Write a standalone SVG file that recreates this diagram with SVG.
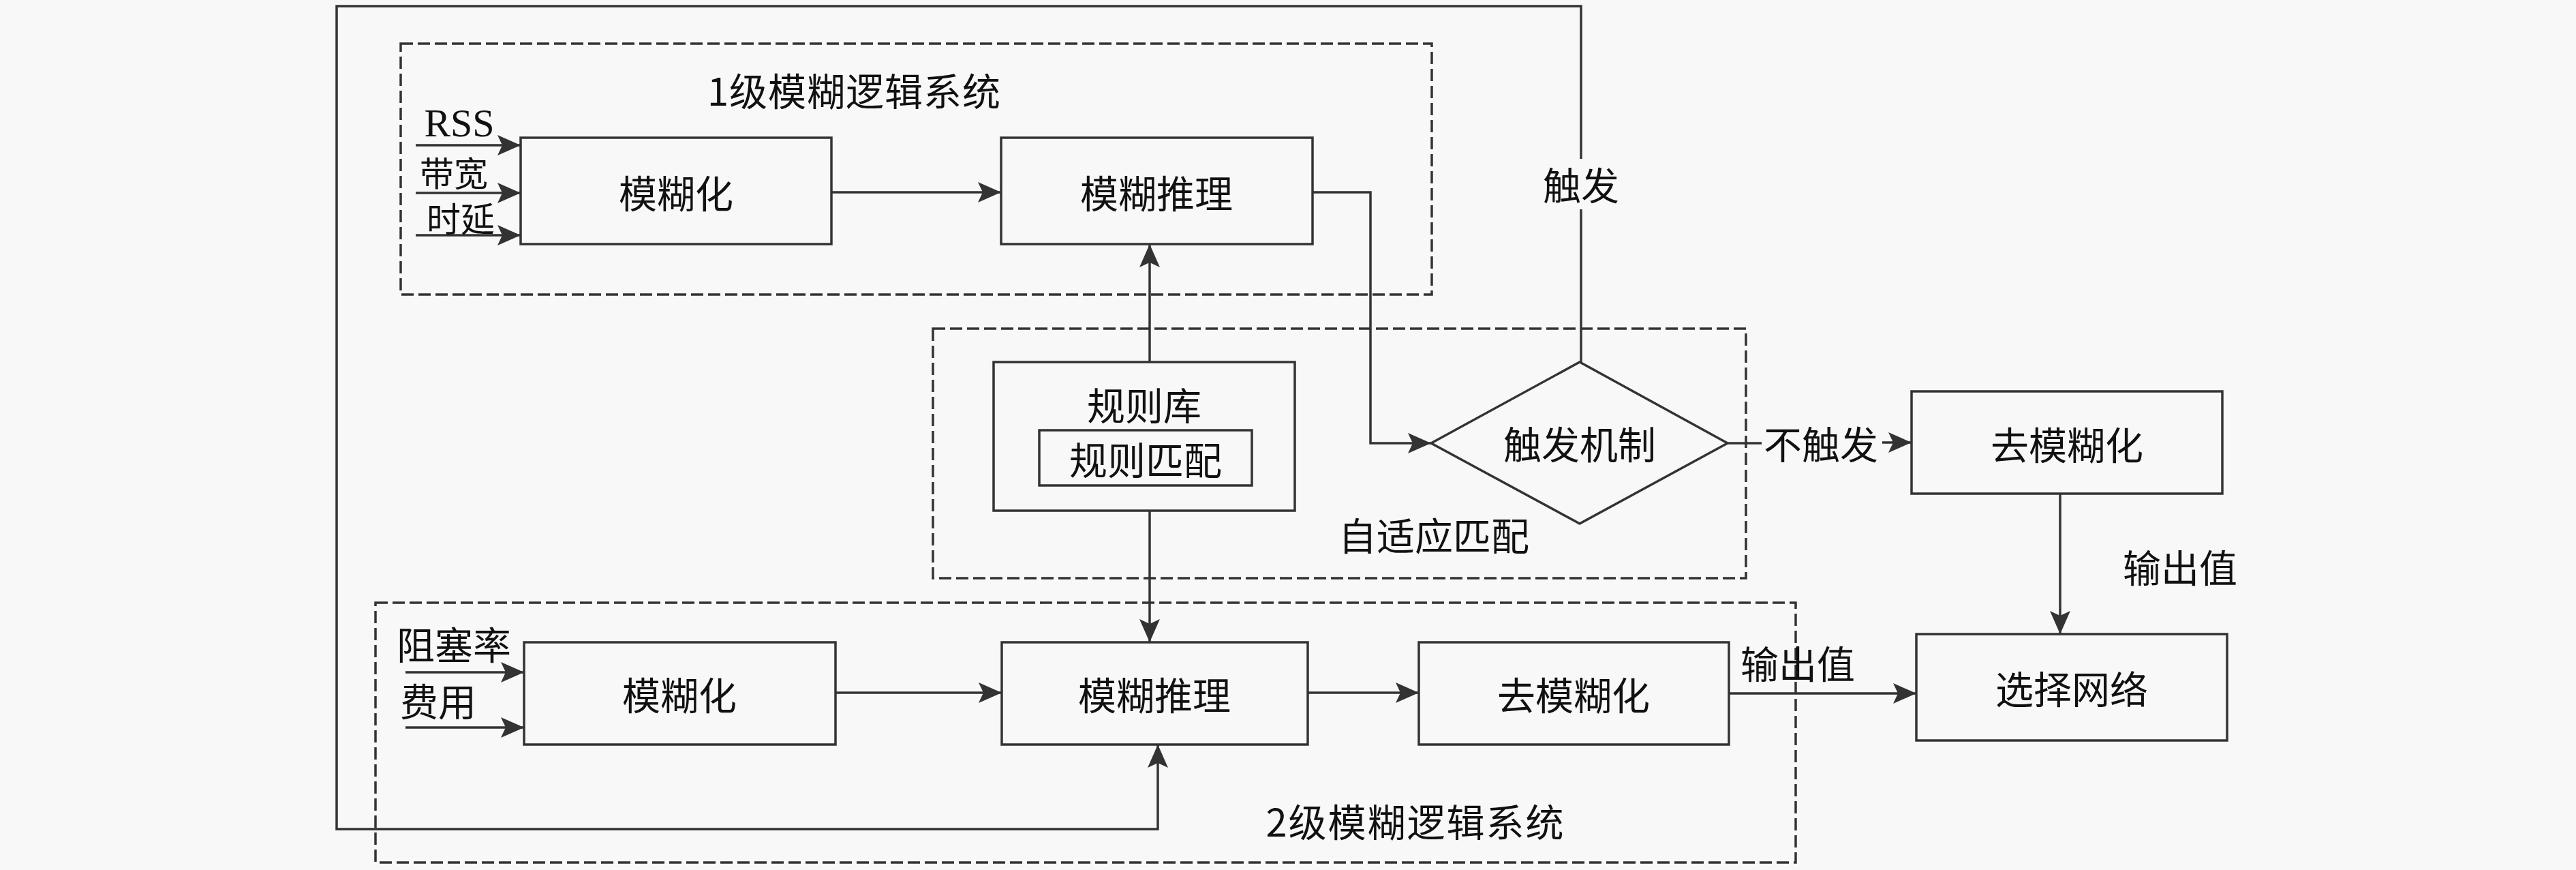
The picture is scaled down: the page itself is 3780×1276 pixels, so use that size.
<svg xmlns="http://www.w3.org/2000/svg" width="3780" height="1276" viewBox="0 0 3780 1276">
<style>
.bg{fill:#f8f8f8}
.box{fill:none;stroke:#333;stroke-width:3.5}
.dash{fill:none;stroke:#333;stroke-width:3.5;stroke-dasharray:18 7}
.ln{fill:none;stroke:#333;stroke-width:3.5}
.t{font-family:"Noto Sans CJK SC","Noto Sans",sans-serif;font-size:56px;fill:#111;text-anchor:middle;dominant-baseline:central}
.s{font-size:50px}
.r{font-family:"Liberation Serif",serif;font-size:58px;fill:#111;text-anchor:middle}
</style>
<defs>
<marker id="arr" markerUnits="userSpaceOnUse" markerWidth="36" markerHeight="32" refX="34" refY="15" orient="auto">
<path d="M0,0 L34,15 L0,30 L7,15 Z" fill="#333"/>
</marker>
</defs>
<rect class="bg" x="0" y="0" width="3780" height="1276"/>

<g id="group-level1">
<rect class="dash" x="588" y="64" width="1513" height="368"/>
<text class="t" x="1253" y="130" textLength="430" lengthAdjust="spacing">1级模糊逻辑系统</text>
</g>
<g id="group-adaptive">
<rect class="dash" x="1369" y="482" width="1193" height="366"/>
<text class="t" x="2104" y="782">自适应匹配</text>
</g>
<g id="group-level2">
<rect class="dash" x="551" y="884" width="2084" height="381"/>
<text class="t" x="2076" y="1202" textLength="437" lengthAdjust="spacing">2级模糊逻辑系统</text>
</g>

<g id="node-fuzzify1">
<rect class="box" x="764" y="202" width="456" height="156"/>
<text class="t" x="992" y="280">模糊化</text>
</g>
<g id="node-infer1">
<rect class="box" x="1469" y="202" width="457" height="156"/>
<text class="t" x="1697" y="280">模糊推理</text>
</g>
<g id="node-rulebase">
<rect class="box" x="1458" y="531" width="442" height="218"/>
<text class="t" x="1679" y="591">规则库</text>
<rect class="box" x="1525" y="631" width="312" height="81"/>
<text class="t" x="1681" y="671">规则匹配</text>
</g>
<g id="node-trigger">
<polygon class="box" points="2100,650 2318,531 2535,650 2318,768"/>
<text class="t" x="2318" y="648">触发机制</text>
</g>
<g id="node-defuzz-right">
<rect class="box" x="2805" y="574" width="456" height="150"/>
<text class="t" x="3033" y="649">去模糊化</text>
</g>
<g id="node-select">
<rect class="box" x="2812" y="930" width="456" height="156"/>
<text class="t" x="3040" y="1007">选择网络</text>
</g>
<g id="node-fuzzify2">
<rect class="box" x="769" y="942" width="457" height="150"/>
<text class="t" x="997" y="1016">模糊化</text>
</g>
<g id="node-infer2">
<rect class="box" x="1470" y="942" width="449" height="150"/>
<text class="t" x="1694" y="1016">模糊推理</text>
</g>
<g id="node-defuzz2">
<rect class="box" x="2082" y="942" width="455" height="150"/>
<text class="t" x="2309" y="1016">去模糊化</text>
</g>

<g id="connectors">
<path class="ln" d="M610,213 H764" marker-end="url(#arr)"/>
<path class="ln" d="M610,283 H764" marker-end="url(#arr)"/>
<path class="ln" d="M610,345 H764" marker-end="url(#arr)"/>
<path class="ln" d="M1220,282 H1469" marker-end="url(#arr)"/>
<path class="ln" d="M1926,282 H2011 V650 H2100" marker-end="url(#arr)"/>
<path class="ln" d="M1687,531 V358" marker-end="url(#arr)"/>
<path class="ln" d="M1687,749 V942" marker-end="url(#arr)"/>
<path class="ln" d="M2320,531 V307 M2320,233 V9 H494 V1216 H1699 V1092" marker-end="url(#arr)"/>
<path class="ln" d="M2535,650 H2585"/>
<path class="ln" d="M2762,649 H2805" marker-end="url(#arr)"/>
<path class="ln" d="M3023,724 V930" marker-end="url(#arr)"/>
<path class="ln" d="M595,986 H769" marker-end="url(#arr)"/>
<path class="ln" d="M595,1067 H769" marker-end="url(#arr)"/>
<path class="ln" d="M1226,1016 H1470" marker-end="url(#arr)"/>
<path class="ln" d="M1919,1016 H2082" marker-end="url(#arr)"/>
<path class="ln" d="M2537,1017 H2812" marker-end="url(#arr)"/>
<text class="r" x="674" y="200">RSS</text>
<text class="t s" x="666" y="251">带宽</text>
<text class="t s" x="676" y="318">时延</text>
<text class="t" x="666" y="942">阻塞率</text>
<text class="t" x="643" y="1025">费用</text>
<text class="t" x="2320" y="268">触发</text>
<text class="t" x="2672" y="648">不触发</text>
<text class="t" x="3199" y="829">输出值</text>
<text class="t" x="2638" y="970">输出值</text>
</g>
</svg>
